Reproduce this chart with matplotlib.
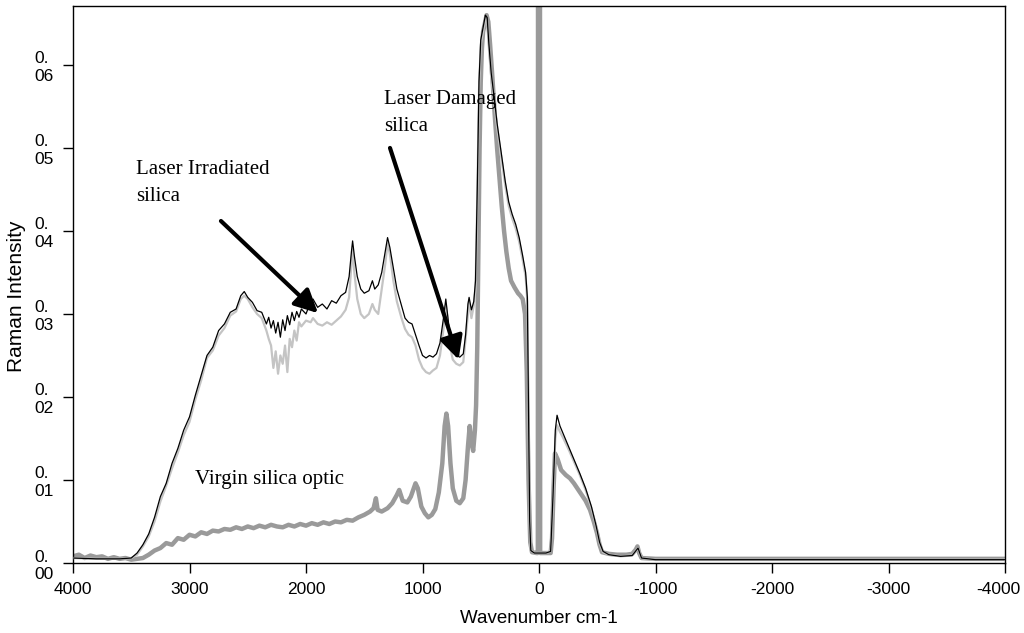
import numpy as np
import matplotlib.pyplot as plt
from matplotlib.transforms import ScaledTranslation

plt.rcParams['font.family'] = ['Liberation Sans', 'DejaVu Sans']

# thin spectra (laser irradiated = black, laser damaged = light grey)
wn_thin = [4000, 3800, 3600, 3500, 3450, 3400, 3350, 3300, 3250, 3200, 3150, 3100, 3050, 3000,
           2950, 2900, 2850, 2800, 2750, 2700, 2650, 2600, 2560, 2530, 2500, 2460, 2420, 2380,
           2340, 2320, 2300, 2280, 2260, 2240, 2220, 2200, 2180, 2160, 2140, 2120, 2100, 2080,
           2060, 2040, 2000, 1960, 1940, 1900, 1860, 1820, 1780, 1740, 1700, 1660, 1630, 1610,
           1600, 1585, 1560, 1530, 1500, 1460, 1430, 1410, 1380, 1350, 1320, 1300, 1280, 1250,
           1220, 1180, 1150, 1120, 1090, 1060, 1030, 1000, 970, 940, 910, 880, 850, 820, 800,
           785, 765, 740, 710, 680, 650, 630, 610, 600, 580, 560, 545, 530, 515, 500, 480, 460,
           445, 430, 410, 380, 360, 335, 310, 290, 260, 230, 200, 170, 140, 115, 100, 90, 80, 70,
           40, 0, -60, -100, -120, -140, -155, -180, -210, -260, -300, -350, -400, -450, -490,
           -520, -550, -600, -700, -800, -850, -880, -1000, -1500, -2000, -2500, -3000, -3500, -4000]
irradiated = [0.0006, 0.0005, 0.0005, 0.0006, 0.0012, 0.0022, 0.0035, 0.0055, 0.0080, 0.0096,
              0.0120, 0.0138, 0.0160, 0.0176, 0.0202, 0.0226, 0.0250, 0.0260, 0.0280, 0.0288,
              0.0302, 0.0306, 0.0322, 0.0327, 0.0320, 0.0314, 0.0304, 0.0302, 0.0288, 0.0296,
              0.0283, 0.0292, 0.0277, 0.0290, 0.0272, 0.0293, 0.0280, 0.0298, 0.0287, 0.0302,
              0.0292, 0.0303, 0.0296, 0.0306, 0.0300, 0.0315, 0.0318, 0.0308, 0.0312, 0.0306,
              0.0316, 0.0313, 0.0322, 0.0326, 0.0345, 0.0375, 0.0388, 0.0370, 0.0345, 0.0330,
              0.0325, 0.0328, 0.0340, 0.0330, 0.0335, 0.0350, 0.0375, 0.0392, 0.0380, 0.0355,
              0.0330, 0.0310, 0.0295, 0.0290, 0.0288, 0.0275, 0.0262, 0.0250, 0.0247, 0.0250,
              0.0248, 0.0252, 0.0265, 0.0295, 0.0318, 0.0300, 0.0275, 0.0255, 0.0250, 0.0248,
              0.0252, 0.0275, 0.0312, 0.0320, 0.0305, 0.0315, 0.0340, 0.0450, 0.0580, 0.0630,
              0.0645, 0.0660, 0.0657, 0.0625, 0.0590, 0.0555, 0.0530, 0.0505, 0.0480, 0.0460,
              0.0435, 0.0420, 0.0408, 0.0392, 0.0370, 0.0350, 0.0320, 0.0180, 0.0050, 0.0015,
              0.0012, 0.0012, 0.0012, 0.0014, 0.0080, 0.0160, 0.0178, 0.0165, 0.0155, 0.0138,
              0.0125, 0.0108, 0.0090, 0.0068, 0.0045, 0.0025, 0.0014, 0.0010, 0.0008, 0.0009,
              0.0018, 0.0006, 0.0004, 0.0004, 0.0004, 0.0004, 0.0004, 0.0004, 0.0004]
damaged = [0.0006, 0.0005, 0.0005, 0.0006, 0.0010, 0.0020, 0.0032, 0.0050, 0.0074, 0.0093,
           0.0114, 0.0133, 0.0154, 0.0170, 0.0197, 0.0220, 0.0247, 0.0256, 0.0274, 0.0283,
           0.0298, 0.0303, 0.0318, 0.0322, 0.0318, 0.0308, 0.0300, 0.0295, 0.0280, 0.0270,
           0.0262, 0.0235, 0.0255, 0.0228, 0.0250, 0.0240, 0.0262, 0.0230, 0.0270, 0.0260,
           0.0280, 0.0268, 0.0290, 0.0285, 0.0292, 0.0290, 0.0295, 0.0288, 0.0286, 0.0290,
           0.0287, 0.0292, 0.0297, 0.0305, 0.0320, 0.0360, 0.0378, 0.0350, 0.0318, 0.0300,
           0.0295, 0.0300, 0.0312, 0.0305, 0.0300, 0.0330, 0.0360, 0.0385, 0.0372, 0.0340,
           0.0315, 0.0295, 0.0282, 0.0275, 0.0272, 0.0262, 0.0245, 0.0235, 0.0230, 0.0228,
           0.0232, 0.0235, 0.0250, 0.0282, 0.0310, 0.0295, 0.0262, 0.0245, 0.0240, 0.0238,
           0.0242, 0.0270, 0.0300, 0.0315, 0.0295, 0.0310, 0.0330, 0.0440, 0.0570, 0.0625,
           0.0640, 0.0655, 0.0652, 0.0620, 0.0585, 0.0550, 0.0525, 0.0500, 0.0475, 0.0455,
           0.0430, 0.0415, 0.0403, 0.0387, 0.0365, 0.0345, 0.0315, 0.0175, 0.0048, 0.0015,
           0.0012, 0.0012, 0.0012, 0.0014, 0.0075, 0.0150, 0.0166, 0.0158, 0.0150, 0.0135,
           0.0122, 0.0106, 0.0088, 0.0066, 0.0045, 0.0024, 0.0013, 0.0010, 0.0008, 0.0009,
           0.0018, 0.0006, 0.0004, 0.0004, 0.0004, 0.0004, 0.0004, 0.0004, 0.0004]

# thick spectrum (virgin silica optic)
wn_virgin = [4000, 3950, 3900, 3850, 3800, 3750, 3700, 3650, 3600, 3550, 3500, 3450, 3400, 3350,
             3300, 3250, 3200, 3150, 3100, 3050, 3000, 2950, 2900, 2850, 2800, 2750, 2700, 2650,
             2600, 2550, 2500, 2450, 2400, 2350, 2300, 2250, 2200, 2150, 2100, 2050, 2000, 1950,
             1900, 1850, 1800, 1750, 1700, 1650, 1600, 1550, 1500, 1450, 1420, 1400, 1385, 1350,
             1300, 1260, 1220, 1200, 1170, 1130, 1100, 1060, 1040, 1010, 980, 950, 920, 890, 860,
             830, 810, 795, 780, 760, 740, 710, 680, 650, 630, 610, 595, 580, 565, 550, 540, 530,
             520, 510, 500, 490, 480, 465, 450, 435, 420, 400, 380, 360, 340, 320, 300, 280, 260,
             240, 210, 180, 160, 140, 120, 105, 90, 75, 60, 20, 10, 8, -8, -10, -100, -112, -125,
             -137, -160, -190, -230, -266, -300, -352, -400, -438, -470, -498, -520, -541, -600,
             -670, -750, -800, -830, -845, -860, -880, -1000, -2000, -3000, -4000]
virgin = [0.0008, 0.0010, 0.0006, 0.0009, 0.0007, 0.0008, 0.0005, 0.0007, 0.0005, 0.0006,
          0.0004, 0.0005, 0.0006, 0.0010, 0.0015, 0.0018, 0.0024, 0.0022, 0.0030, 0.0028,
          0.0034, 0.0032, 0.0037, 0.0035, 0.0039, 0.0038, 0.0041, 0.0040, 0.0043, 0.0041,
          0.0044, 0.0042, 0.0045, 0.0043, 0.0046, 0.0044, 0.0043, 0.0046, 0.0044, 0.0047,
          0.0045, 0.0048, 0.0046, 0.0049, 0.0047, 0.0050, 0.0049, 0.0052, 0.0051, 0.0055,
          0.0058, 0.0062, 0.0066, 0.0078, 0.0064, 0.0062, 0.0066, 0.0072, 0.0082, 0.0088,
          0.0075, 0.0073, 0.0080, 0.0096, 0.0090, 0.0068, 0.0060, 0.0055, 0.0058, 0.0065,
          0.0085, 0.0120, 0.0165, 0.0180, 0.0165, 0.0120, 0.0090, 0.0075, 0.0072, 0.0078,
          0.0100, 0.0140, 0.0165, 0.0145, 0.0135, 0.0160, 0.0190, 0.0260, 0.0380, 0.0500,
          0.0580, 0.0620, 0.0640, 0.0650, 0.0660, 0.0652, 0.0625, 0.0585, 0.0540, 0.0500,
          0.0465, 0.0430, 0.0400, 0.0375, 0.0355, 0.0340, 0.0332, 0.0325, 0.0322, 0.0318,
          0.0300, 0.0230, 0.0100, 0.0025, 0.0013, 0.0012, 0.0012, 0.0900, 0.0900, 0.0012,
          0.0012, 0.0030, 0.0090, 0.0132, 0.0125, 0.0112, 0.0106, 0.0102, 0.0096, 0.0085,
          0.0075, 0.0064, 0.0050, 0.0036, 0.0022, 0.0013, 0.0011, 0.0010, 0.0010, 0.0011,
          0.0016, 0.0020, 0.0012, 0.0006, 0.0005, 0.0005, 0.0005, 0.0005]

x_ticks = [4000, 3000, 2000, 1000, 0, -1000, -2000, -3000, -4000]
y_ticks = [0.00, 0.01, 0.02, 0.03, 0.04, 0.05, 0.06]
y_ticklabels = ['0.\n00', '0.\n01', '0.\n02', '0.\n03', '0.\n04', '0.\n05', '0.\n06']

fig = plt.figure(figsize=(10.24, 6.33), dpi=100)
ax = fig.add_axes([73 / 1024, 70 / 633, 932 / 1024, 557 / 633])

ax.plot(wn_virgin, virgin, color='#9a9a9a', lw=3.2, zorder=2, solid_joinstyle='round')
ax.plot(wn_thin, damaged, color='#c4c4c4', lw=1.6, zorder=3)
ax.plot(wn_thin, irradiated, color='black', lw=0.9, zorder=4)

ax.set_xlim(4000, -4000)
ax.set_ylim(0, 0.0671)
ax.set_xticks(x_ticks)
ax.set_xticklabels([str(t) for t in x_ticks])
ax.set_yticks(y_ticks)
ax.set_yticklabels(y_ticklabels)
for lab in ax.get_yticklabels():
    lab.set_multialignment('left')
ax.tick_params(axis='both', direction='out', length=7, width=1, labelsize=12.5, color='black')
ax.tick_params(axis='y', pad=7)
ax.tick_params(axis='x', pad=7)
for sp in ax.spines.values():
    sp.set_linewidth(1)
    sp.set_color('black')

# last x label sits at the figure edge, nudge it in a little
last = ax.get_xticklabels()[-1]
last.set_transform(last.get_transform() + ScaledTranslation(-5 / 72, 0, fig.dpi_scale_trans))

ax.set_xlabel('Wavenumber cm-1', fontsize=13.5)
ax.xaxis.set_label_coords(0.5, -0.084)
ax.set_ylabel('Raman Intensity', fontsize=15)
ax.yaxis.set_label_coords(-0.05, 0.479)

serif = ['Liberation Serif', 'DejaVu Serif']
ax.text(1330, 0.0570, 'Laser Damaged\nsilica', family=serif, fontsize=15,
        va='top', ha='left', linespacing=1.55)
ax.text(3459, 0.0485, 'Laser Irradiated\nsilica', family=serif, fontsize=15,
        va='top', ha='left', linespacing=1.55)
ax.text(2953, 0.0100, 'Virgin silica optic', family=serif, fontsize=15,
        va='center', ha='left')

arrow = dict(arrowstyle='-|>,head_length=0.7,head_width=0.35', lw=3, color='black',
             mutation_scale=20, shrinkA=0, shrinkB=0)
ax.annotate('', xy=(690, 0.0245), xytext=(1279, 0.0500), arrowprops=arrow, zorder=6)
ax.annotate('', xy=(1897, 0.0301), xytext=(2730, 0.0412), arrowprops=arrow, zorder=6)

fig.savefig('out.png', dpi=100)
